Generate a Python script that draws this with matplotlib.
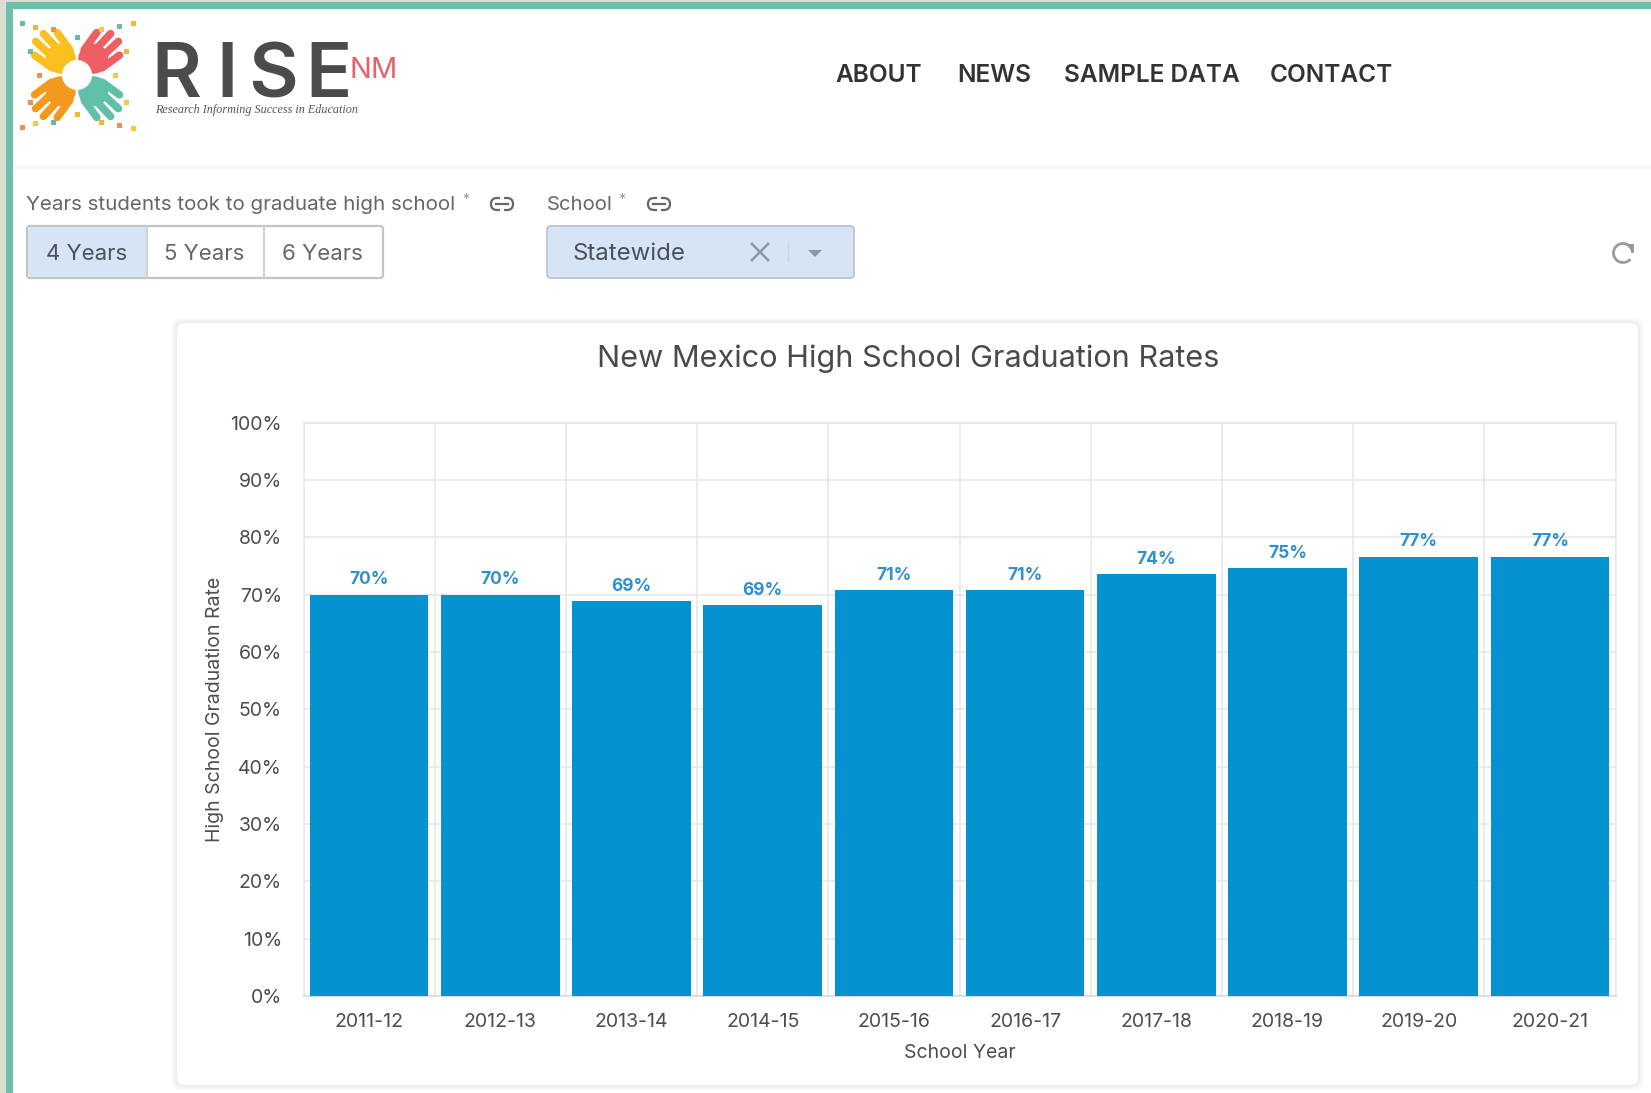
import numpy as np
import matplotlib
matplotlib.use("Agg")
import matplotlib.pyplot as plt
from matplotlib.patches import Rectangle, FancyBboxPatch, Circle, Polygon, Arc
from matplotlib.ticker import FuncFormatter

school_years = ["2011-12", "2012-13", "2013-14", "2014-15", "2015-16",
                "2016-17", "2017-18", "2018-19", "2019-20", "2020-21"]
grad_rates = [70.0, 70.0, 68.8, 68.1, 70.8, 70.8, 73.6, 74.6, 76.6, 76.6]
rate_labels = ["70%", "70%", "69%", "69%", "71%", "71%", "74%", "75%", "77%", "77%"]
nav_items = ["ABOUT", "NEWS", "SAMPLE DATA", "CONTACT"]
year_buttons = ["4 Years", "5 Years", "6 Years"]

W, H = 1651, 1093
FONT = ["Inter", "DejaVu Sans"]
plt.rcParams["font.family"] = FONT
TXT = "#4d4d4d"
TEAL = "#6cc0ab"
BAR = "#0692d0"

fig = plt.figure(figsize=(W / 100, H / 100), dpi=100, facecolor="white")

# page furniture, in pixel coordinates
ui = fig.add_axes([0, 0, 1, 1], zorder=0)
ui.set_xlim(0, W)
ui.set_ylim(H, 0)
ui.axis("off")

ui.add_patch(Rectangle((0, 0), 6, H, fc="#d8dfd0", ec="none"))
ui.add_patch(Rectangle((0, 0), W, 2, fc="#d8dfd0", ec="none"))
ui.add_patch(Rectangle((6, 2), 7, H, fc=TEAL, ec="none"))
ui.add_patch(Rectangle((6, 2), W, 7, fc=TEAL, ec="none"))
ui.add_patch(Rectangle((13, 165), W, 5, fc="#f8f8f8", ec="none"))

LOGO = (77, 75)


def hand(cx, cy, ang, col):
    d = np.array([np.cos(np.radians(ang)), -np.sin(np.radians(ang))])
    n = np.array([-d[1], d[0]])
    c = np.array([cx, cy])
    ui.add_patch(Circle(c + d * 23, 15, fc=col, ec="none", zorder=3))
    for off, ln in zip((-16, -5.5, 5.5, 16), (21, 30, 30, 21)):
        a = c + d * 23 + n * off * 0.8
        b = c + d * (23 + ln) + n * off
        ui.plot([a[0], b[0]], [a[1], b[1]], color=col, lw=5.5,
                solid_capstyle="round", zorder=3)


for ang, col in ((135, "#fbc01f"), (45, "#ee5f63"), (225, "#f39a1e"), (315, "#5fbfa8")):
    hand(*LOGO, ang, col)
ui.add_patch(Circle(LOGO, 15, fc="white", ec="none", zorder=4))
sq_cols = ["#6fb7a8", "#f2b632", "#e8925a", "#f0c94a"]
sq_pts = [(-55, -52), (-42, -48), (-24, -46), (24, -46), (42, -49), (56, -52),
          (-55, 52), (-42, 48), (-24, 47), (24, 47), (42, 50), (56, 53),
          (-47, -24), (49, -24), (-47, 27), (49, 27), (0, -38), (0, 39), (-38, 0), (38, 0)]
for i, (x, y) in enumerate(sq_pts):
    ui.add_patch(Rectangle((LOGO[0] + x - 2.5, LOGO[1] + y - 2.5), 5, 5,
                           fc=sq_cols[i % 4], ec="none", zorder=3))

for ch, x in zip("RISE", (151, 216, 248, 305)):
    ui.text(x, 97, ch, fontsize=55, color="#4b4b4b", ha="left", va="baseline", fontweight="semibold")
ui.text(349, 78, "NM", fontsize=21, color="#e8606c", ha="left", va="baseline")
ui.text(155, 113, "Research Informing Success in Education", fontsize=8.7, color="#555555",
        family="Liberation Serif", style="italic", ha="left", va="baseline")

for t, x in zip(nav_items, (879, 994, 1152, 1331)):
    ui.text(x, 76, t, fontsize=17.6, color="#333333", fontweight="semibold", ha="center", va="center")

ui.text(26, 205, "Years students took to graduate high school", fontsize=14.8, color="#666666", va="center")
ui.text(462, 200, "*", fontsize=10, color="#999999", va="center")
ui.text(547, 205, "School", fontsize=14.6, color="#666666", va="center")
ui.text(618, 200, "*", fontsize=10, color="#999999", va="center")


def link(cx, cy):
    ui.add_patch(FancyBboxPatch((cx - 11, cy - 6), 22, 12, boxstyle="round,pad=0,rounding_size=6",
                                fc="none", ec="#666666", lw=1.6, zorder=2))
    ui.add_patch(Rectangle((cx - 2, cy - 8), 4, 16, fc="white", ec="none", zorder=3))
    ui.plot([cx - 6, cx + 6], [cy, cy], color="#666666", lw=1.6, zorder=4)


link(502, 204)
link(659, 204)

# button group
ui.add_patch(FancyBboxPatch((27, 226), 356, 52, boxstyle="round,pad=0,rounding_size=3",
                            fc="white", ec="#c4c4c4", lw=1.6))
ui.add_patch(Rectangle((28, 227), 118, 50, fc="#d6e4f5", ec="none"))
for x in (147, 264):
    ui.plot([x, x], [226, 278], color="#d0d0d0", lw=1.4)
for t, x, c in zip(year_buttons, (87, 204, 322), ("#48525e", "#666666", "#666666")):
    ui.text(x, 254, t, fontsize=16, color=c, ha="center", va="center")

# dropdown
ui.add_patch(FancyBboxPatch((547, 226), 307, 52, boxstyle="round,pad=0,rounding_size=4",
                            fc="#d6e4f5", ec="#bcc8d6", lw=1.4))
ui.text(573, 254, "Statewide", fontsize=17.3, color="#48525e", va="center")
ui.plot([752, 768], [244, 260], color="#8b96a3", lw=1.8)
ui.plot([752, 768], [260, 244], color="#8b96a3", lw=1.8)
ui.plot([788, 788], [243, 261], color="#c9d5e4", lw=1)
ui.add_patch(Polygon([(808, 250), (822, 250), (815, 257)], fc="#8b96a3", ec="none"))

# refresh icon
ui.add_patch(Arc((1623, 253), 19, 19, theta1=-320, theta2=0, color="#9a9a9a", lw=2))
ui.add_patch(Polygon([(1625, 244), (1634, 244), (1634, 252)], fc="#9a9a9a", ec="none"))

# card with soft shadow
for grow, col in ((5, "#f8f8f8"), (3, "#f3f3f3"), (1.5, "#eeeeee")):
    ui.add_patch(FancyBboxPatch((177 - grow, 323 - grow), 1461 + 2 * grow, 762 + 2 * grow,
                                boxstyle="round,pad=0,rounding_size=9", fc=col, ec="none"))
ui.add_patch(FancyBboxPatch((177, 323), 1461, 762, boxstyle="round,pad=0,rounding_size=8",
                            fc="white", ec="none"))

# chart
x0, x1, y0, y1 = 303.5, 1615.5, 996, 422.5
ax = fig.add_axes([x0 / W, 1 - y0 / H, (x1 - x0) / W, (y0 - y1) / H], zorder=2)
ax.set_facecolor("none")
pos = np.arange(len(school_years))
bars = ax.bar(pos, grad_rates, width=0.905, color=BAR, zorder=3)
ax.set_xlim(-0.5, len(school_years) - 0.5)
ax.set_ylim(0, 100)
ax.set_yticks(np.arange(0, 101, 10))
ax.yaxis.set_major_formatter(FuncFormatter(lambda v, _: f"{v:.0f}%"))
ax.set_xticks(pos)
ax.set_xticklabels(school_years)
ax.set_xticks(np.arange(-0.5, len(school_years)), minor=True)
ax.grid(True, axis="y", which="major", color="#e8e8e8", lw=1.2, zorder=0)
ax.grid(True, axis="x", which="minor", color="#e8e8e8", lw=1.2, zorder=0)
ax.grid(False, axis="x", which="major")
ax.tick_params(axis="both", which="both", length=0, labelsize=14, labelcolor=TXT)
ax.tick_params(axis="x", which="major", pad=12.5)
ax.tick_params(axis="y", which="major", pad=15.5)
for s in ax.spines.values():
    s.set_color("#e8e8e8")
    s.set_linewidth(1.2)
ax.spines["bottom"].set_color("#c9dcea")
ax.bar_label(bars, labels=rate_labels, padding=4.5, fontsize=12.5, fontweight="bold", color="#2f90cc", zorder=4)
ax.set_xlabel("School Year", fontsize=14, color=TXT)
ax.xaxis.set_label_coords((960 - x0) / (x1 - x0), -0.0835)
ax.set_ylabel("High School Graduation Rate", fontsize=14, color=TXT)
ax.yaxis.set_label_coords((224 - x0) / (x1 - x0), 0.5)
ui.text(908, 359, "New Mexico High School Graduation Rates", fontsize=22.1, color="#4a4a4a",
        ha="center", va="center")

fig.savefig("out.png", dpi=100)
